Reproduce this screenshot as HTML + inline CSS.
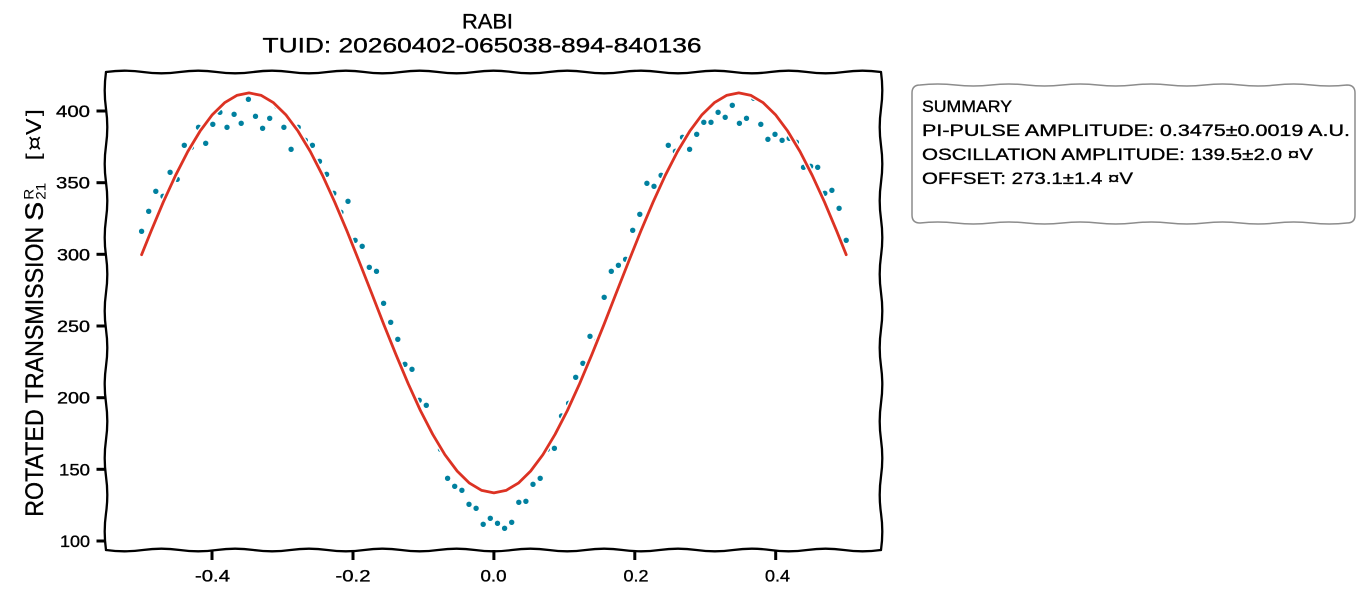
<!DOCTYPE html>
<html>
<head>
<meta charset="utf-8">
<style>
  html, body { margin: 0; padding: 0; background: #ffffff; }
  svg { display: block; }
  text { font-family: "Liberation Sans", "DejaVu Sans", sans-serif; fill: #000; }
  .hv { stroke: #000; stroke-width: 0.35; }
</style>
</head>
<body>
<svg width="1357" height="593" viewBox="0 0 1357 593" xmlns="http://www.w3.org/2000/svg">
  <rect x="0" y="0" width="1357" height="593" fill="#ffffff"/>

  <!-- Title -->
  <g class="hv">
    <text x="487.5" y="28.5" font-size="21" text-anchor="middle" textLength="51" lengthAdjust="spacingAndGlyphs">RABI</text>
    <text x="482" y="52.5" font-size="21" text-anchor="middle" textLength="439" lengthAdjust="spacingAndGlyphs">TUID: 20260402-065038-894-840136</text>
  </g>

  <!-- Data points -->
  <g fill="#00809f" stroke="#ffffff" stroke-width="0.6">
    <circle cx="141.6" cy="231.3" r="3"/>
    <circle cx="148.7" cy="211.3" r="3"/>
    <circle cx="155.8" cy="191.3" r="3"/>
    <circle cx="163.0" cy="196.3" r="3"/>
    <circle cx="170.1" cy="172.3" r="3"/>
    <circle cx="177.2" cy="179.3" r="3"/>
    <circle cx="184.3" cy="145.3" r="3"/>
    <circle cx="191.4" cy="147.3" r="3"/>
    <circle cx="198.5" cy="127.3" r="3"/>
    <circle cx="205.7" cy="143.3" r="3"/>
    <circle cx="212.8" cy="124.3" r="3"/>
    <circle cx="219.9" cy="112.3" r="3"/>
    <circle cx="227.0" cy="127.3" r="3"/>
    <circle cx="234.1" cy="114.3" r="3"/>
    <circle cx="241.2" cy="123.3" r="3"/>
    <circle cx="248.4" cy="99.3" r="3"/>
    <circle cx="255.5" cy="116.3" r="3"/>
    <circle cx="262.6" cy="128.3" r="3"/>
    <circle cx="269.7" cy="118.3" r="3"/>
    <circle cx="276.8" cy="106.3" r="3"/>
    <circle cx="283.9" cy="127.3" r="3"/>
    <circle cx="291.1" cy="149.3" r="3"/>
    <circle cx="298.2" cy="127.3" r="3"/>
    <circle cx="305.3" cy="140.3" r="3"/>
    <circle cx="312.4" cy="145.3" r="3"/>
    <circle cx="319.5" cy="161.3" r="3"/>
    <circle cx="326.6" cy="174.3" r="3"/>
    <circle cx="333.8" cy="193.3" r="3"/>
    <circle cx="340.9" cy="212.3" r="3"/>
    <circle cx="348.0" cy="201.3" r="3"/>
    <circle cx="355.1" cy="240.3" r="3"/>
    <circle cx="362.2" cy="246.3" r="3"/>
    <circle cx="369.3" cy="267.3" r="3"/>
    <circle cx="376.5" cy="271.3" r="3"/>
    <circle cx="383.6" cy="303.3" r="3"/>
    <circle cx="390.7" cy="322.3" r="3"/>
    <circle cx="397.8" cy="339.3" r="3"/>
    <circle cx="404.9" cy="364.3" r="3"/>
    <circle cx="412.0" cy="369.3" r="3"/>
    <circle cx="419.2" cy="400.3" r="3"/>
    <circle cx="426.3" cy="405.3" r="3"/>
    <circle cx="433.4" cy="435.3" r="3"/>
    <circle cx="440.5" cy="449.3" r="3"/>
    <circle cx="447.6" cy="478.3" r="3"/>
    <circle cx="454.7" cy="486.3" r="3"/>
    <circle cx="461.9" cy="490.3" r="3"/>
    <circle cx="469.0" cy="504.3" r="3"/>
    <circle cx="476.1" cy="508.3" r="3"/>
    <circle cx="483.2" cy="524.3" r="3"/>
    <circle cx="490.3" cy="518.3" r="3"/>
    <circle cx="497.5" cy="523.3" r="3"/>
    <circle cx="504.6" cy="528.3" r="3"/>
    <circle cx="511.7" cy="522.3" r="3"/>
    <circle cx="518.8" cy="502.3" r="3"/>
    <circle cx="525.9" cy="501.3" r="3"/>
    <circle cx="533.0" cy="484.3" r="3"/>
    <circle cx="540.2" cy="478.3" r="3"/>
    <circle cx="547.3" cy="449.3" r="3"/>
    <circle cx="554.4" cy="448.3" r="3"/>
    <circle cx="561.5" cy="416.0" r="3"/>
    <circle cx="568.6" cy="403.3" r="3"/>
    <circle cx="575.7" cy="377.3" r="3"/>
    <circle cx="582.9" cy="363.3" r="3"/>
    <circle cx="590.0" cy="336.3" r="3"/>
    <circle cx="597.1" cy="340.7" r="3"/>
    <circle cx="604.2" cy="297.3" r="3"/>
    <circle cx="611.3" cy="271.3" r="3"/>
    <circle cx="618.4" cy="265.3" r="3"/>
    <circle cx="625.6" cy="259.3" r="3"/>
    <circle cx="632.7" cy="230.3" r="3"/>
    <circle cx="639.8" cy="214.3" r="3"/>
    <circle cx="646.9" cy="183.3" r="3"/>
    <circle cx="654.0" cy="186.3" r="3"/>
    <circle cx="661.1" cy="175.3" r="3"/>
    <circle cx="668.3" cy="145.3" r="3"/>
    <circle cx="675.4" cy="151.3" r="3"/>
    <circle cx="682.5" cy="137.3" r="3"/>
    <circle cx="689.6" cy="149.3" r="3"/>
    <circle cx="696.7" cy="134.3" r="3"/>
    <circle cx="703.8" cy="122.3" r="3"/>
    <circle cx="711.0" cy="122.3" r="3"/>
    <circle cx="718.1" cy="112.3" r="3"/>
    <circle cx="725.2" cy="117.3" r="3"/>
    <circle cx="732.3" cy="105.3" r="3"/>
    <circle cx="739.4" cy="123.3" r="3"/>
    <circle cx="746.5" cy="118.3" r="3"/>
    <circle cx="753.7" cy="98.3" r="3"/>
    <circle cx="760.8" cy="124.3" r="3"/>
    <circle cx="767.9" cy="139.3" r="3"/>
    <circle cx="775.0" cy="134.3" r="3"/>
    <circle cx="782.1" cy="140.3" r="3"/>
    <circle cx="789.2" cy="138.3" r="3"/>
    <circle cx="796.4" cy="142.3" r="3"/>
    <circle cx="803.5" cy="167.3" r="3"/>
    <circle cx="810.6" cy="166.3" r="3"/>
    <circle cx="817.7" cy="167.3" r="3"/>
    <circle cx="824.8" cy="193.3" r="3"/>
    <circle cx="831.9" cy="190.3" r="3"/>
    <circle cx="839.1" cy="208.3" r="3"/>
    <circle cx="846.2" cy="240.3" r="3"/>
  </g>

  <!-- Fit curve -->
  <g fill="none" stroke-linejoin="round" stroke-linecap="round">
    <polyline stroke="#ffffff" stroke-width="5.5" points="141.6,254.7 151.1,231.1 163.3,202.1 175.6,175.3 187.8,151.5 200.1,131.1 212.3,114.7 224.6,102.7 236.8,95.4 249.0,92.9 261.3,95.4 273.5,102.7 285.8,114.7 298.0,131.1 310.3,151.5 322.5,175.3 334.7,202.1 347.0,231.1 359.2,261.6 371.5,292.9 383.7,324.2 396.0,354.7 408.2,383.7 420.4,410.5 432.7,434.3 444.9,454.7 457.2,471.1 469.4,483.1 481.7,490.4 493.9,492.9 506.1,490.4 518.4,483.1 530.6,471.1 542.9,454.7 555.1,434.3 567.4,410.5 579.6,383.7 591.8,354.7 604.1,324.2 616.3,292.9 628.6,261.6 640.8,231.1 653.1,202.1 665.3,175.3 677.5,151.5 689.8,131.1 702.0,114.7 714.3,102.7 726.5,95.4 738.8,92.9 751.0,95.4 763.2,102.7 775.5,114.7 787.7,131.1 800.0,151.5 812.2,175.3 824.5,202.1 836.7,231.1 846.2,254.7"/>
    <polyline stroke="#dc3223" stroke-width="2.8" points="141.6,254.7 151.1,231.1 163.3,202.1 175.6,175.3 187.8,151.5 200.1,131.1 212.3,114.7 224.6,102.7 236.8,95.4 249.0,92.9 261.3,95.4 273.5,102.7 285.8,114.7 298.0,131.1 310.3,151.5 322.5,175.3 334.7,202.1 347.0,231.1 359.2,261.6 371.5,292.9 383.7,324.2 396.0,354.7 408.2,383.7 420.4,410.5 432.7,434.3 444.9,454.7 457.2,471.1 469.4,483.1 481.7,490.4 493.9,492.9 506.1,490.4 518.4,483.1 530.6,471.1 542.9,454.7 555.1,434.3 567.4,410.5 579.6,383.7 591.8,354.7 604.1,324.2 616.3,292.9 628.6,261.6 640.8,231.1 653.1,202.1 665.3,175.3 677.5,151.5 689.8,131.1 702.0,114.7 714.3,102.7 726.5,95.4 738.8,92.9 751.0,95.4 763.2,102.7 775.5,114.7 787.7,131.1 800.0,151.5 812.2,175.3 824.5,202.1 836.7,231.1 846.2,254.7"/>
  </g>

  <!-- Spines (wiggly) -->
  <g fill="none" stroke="#000" stroke-width="2.3" stroke-linecap="round">
    <path d="M106,72 q18.45,-2.6 36.9,0 t36.9,0 t36.9,0 t36.9,0 t36.9,0 t36.9,0 t36.9,0 t36.9,0 t36.9,0 t36.9,0 t36.9,0 t36.9,0 t36.9,0 t36.9,0 t36.9,0 t36.9,0 t36.9,0 t36.9,0 t36.9,0 t36.9,0 t36.9,0"/>
    <path d="M106,550 q18.45,2.6 36.9,0 t36.9,0 t36.9,0 t36.9,0 t36.9,0 t36.9,0 t36.9,0 t36.9,0 t36.9,0 t36.9,0 t36.9,0 t36.9,0 t36.9,0 t36.9,0 t36.9,0 t36.9,0 t36.9,0 t36.9,0 t36.9,0 t36.9,0 t36.9,0"/>
    <path d="M106,72 q-2.6,18.38 0,36.77 t0,36.77 t0,36.77 t0,36.77 t0,36.77 t0,36.77 t0,36.77 t0,36.77 t0,36.77 t0,36.77 t0,36.77 t0,36.77 t0,36.77"/>
    <path d="M881,72 q2.6,18.38 0,36.77 t0,36.77 t0,36.77 t0,36.77 t0,36.77 t0,36.77 t0,36.77 t0,36.77 t0,36.77 t0,36.77 t0,36.77 t0,36.77 t0,36.77"/>
  </g>

  <!-- Ticks -->
  <g stroke="#000" stroke-width="3" fill="none">
    <line x1="96.5" y1="111" x2="106" y2="111"/>
    <line x1="96.5" y1="182.7" x2="106" y2="182.7"/>
    <line x1="96.5" y1="254.3" x2="106" y2="254.3"/>
    <line x1="96.5" y1="326" x2="106" y2="326"/>
    <line x1="96.5" y1="397.7" x2="106" y2="397.7"/>
    <line x1="96.5" y1="469.3" x2="106" y2="469.3"/>
    <line x1="96.5" y1="541" x2="106" y2="541"/>
    <line x1="212" y1="550" x2="212" y2="560"/>
    <line x1="353" y1="550" x2="353" y2="560"/>
    <line x1="493.9" y1="550" x2="493.9" y2="560"/>
    <line x1="634.8" y1="550" x2="634.8" y2="560"/>
    <line x1="775.7" y1="550" x2="775.7" y2="560"/>
  </g>

  <!-- Y tick labels -->
  <g class="hv" font-size="17" text-anchor="end">
    <text x="90" y="117" textLength="34" lengthAdjust="spacingAndGlyphs">400</text>
    <text x="90" y="188.7" textLength="34" lengthAdjust="spacingAndGlyphs">350</text>
    <text x="90" y="260.3" textLength="33" lengthAdjust="spacingAndGlyphs">300</text>
    <text x="90" y="332" textLength="33" lengthAdjust="spacingAndGlyphs">250</text>
    <text x="90" y="403.7" textLength="33" lengthAdjust="spacingAndGlyphs">200</text>
    <text x="90" y="475.3" textLength="31" lengthAdjust="spacingAndGlyphs">150</text>
    <text x="90" y="547" textLength="30" lengthAdjust="spacingAndGlyphs">100</text>
  </g>

  <!-- X tick labels -->
  <g class="hv" font-size="17" text-anchor="middle">
    <text x="212.5" y="581.5" textLength="35" lengthAdjust="spacingAndGlyphs">-0.4</text>
    <text x="353" y="581.5" textLength="35" lengthAdjust="spacingAndGlyphs">-0.2</text>
    <text x="493.5" y="581.5" textLength="26" lengthAdjust="spacingAndGlyphs">0.0</text>
    <text x="636" y="581.5" textLength="25" lengthAdjust="spacingAndGlyphs">0.2</text>
    <text x="777.5" y="581.5" textLength="25" lengthAdjust="spacingAndGlyphs">0.4</text>
  </g>

  <!-- Y axis label -->
  <g transform="translate(43,516.7) rotate(-90)">
    <text class="hv" x="0" y="0" font-size="25" textLength="290" lengthAdjust="spacingAndGlyphs">ROTATED TRANSMISSION</text>
    <text class="hv" x="296" y="0" font-size="25" textLength="19" lengthAdjust="spacingAndGlyphs">S</text>
    <text x="317" y="-9.5" font-size="14" textLength="11" lengthAdjust="spacingAndGlyphs">R</text>
    <text x="317" y="2.5" font-size="14" textLength="17" lengthAdjust="spacingAndGlyphs">21</text>
    <text x="356" y="-2" font-size="20" textLength="52" lengthAdjust="spacingAndGlyphs" style="font-family:'DejaVu Sans', sans-serif;">[¤V]</text>
  </g>

  <!-- Summary box -->
  <path d="M920,85 q17.79,-2 35.58,0 t35.58,0 t35.58,0 t35.58,0 t35.58,0 t35.58,0 t35.58,0 t35.58,0 t35.58,0 t35.58,0 t35.58,0 t35.62,0 q8,0 8,8 l0,122 q0,8 -8,8 q-17.79,2 -35.58,0 t-35.58,0 t-35.58,0 t-35.58,0 t-35.58,0 t-35.58,0 t-35.58,0 t-35.58,0 t-35.58,0 t-35.58,0 t-35.58,0 t-35.62,0 q-8,0 -8,-8 l0,-122 q0,-8 8,-8 z" fill="#ffffff" stroke="#8c8c8c" stroke-width="1.5"/>
  <g class="hv" font-size="17">
    <text x="922" y="112" textLength="90" lengthAdjust="spacingAndGlyphs">SUMMARY</text>
    <text x="922" y="136" textLength="428" lengthAdjust="spacingAndGlyphs">PI-PULSE AMPLITUDE: 0.3475±0.0019 A.U.</text>
    <text x="922" y="160" textLength="391" lengthAdjust="spacingAndGlyphs">OSCILLATION AMPLITUDE: 139.5±2.0 ¤V</text>
    <text x="922" y="184" textLength="211" lengthAdjust="spacingAndGlyphs">OFFSET: 273.1±1.4 ¤V</text>
  </g>
</svg>
</body>
</html>
